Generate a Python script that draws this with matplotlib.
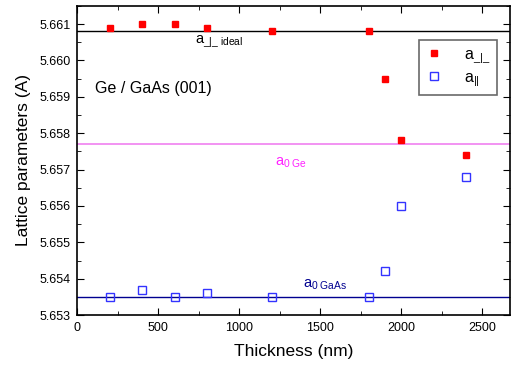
import matplotlib
matplotlib.use("Agg")
import matplotlib.pyplot as plt
from matplotlib.ticker import MultipleLocator

plt.rcParams['font.family'] = ['Liberation Sans', 'DejaVu Sans']
plt.rcParams['mathtext.fontset'] = 'custom'
plt.rcParams['mathtext.rm'] = 'Liberation Sans'
plt.rcParams['mathtext.it'] = 'Liberation Sans'

# data
thickness = [200, 400, 600, 800, 1200, 1800, 1900, 2000, 2400]
a_perp = [5.6609, 5.6610, 5.6610, 5.6609, 5.6608, 5.6608, 5.6595, 5.6578, 5.6574]
a_par = [5.6535, 5.6537, 5.6535, 5.6536, 5.6535, 5.6535, 5.6542, 5.6560, 5.6568]
a_perp_ideal = 5.6608
a0_ge = 5.6577
a0_gaas = 5.6535

fig = plt.figure(figsize=(5.13, 3.66), dpi=100)
ax = fig.add_axes([0.151, 0.139, 0.843, 0.845])

ax.axhline(a_perp_ideal, color='black', lw=1)
ax.axhline(a0_ge, color='#f080f0', lw=1.2)
ax.axhline(a0_gaas, color='#000090', lw=1)

ax.plot(thickness, a_perp, 's', color='red', ms=5, label=r'a$_{\_|\_}$')
ax.plot(thickness, a_par, 's', mfc='none', mec='#3333ff', mew=1, ms=6, label=r'a$_{||}$')

ax.text(725, 5.66045, r'a$_{\_|\_\ \mathrm{ideal}}$', fontsize=10.5)
ax.text(110, 5.6591, 'Ge / GaAs (001)', fontsize=11.5)
ax.text(1220, 5.6571, r'a$_{0\ \mathrm{Ge}}$', fontsize=10.5, color='#ff22ff')
ax.text(1390, 5.65375, r'a$_{0\ \mathrm{GaAs}}$', fontsize=10.5, color='#000090')

ax.set_xlim(0, 2670)
ax.set_ylim(5.653, 5.6615)
ax.xaxis.set_major_locator(MultipleLocator(500))
ax.xaxis.set_minor_locator(MultipleLocator(250))
ax.yaxis.set_major_locator(MultipleLocator(0.001))
ax.yaxis.set_minor_locator(MultipleLocator(0.0005))
ax.yaxis.set_major_formatter(matplotlib.ticker.FormatStrFormatter('%.3f'))
ax.tick_params(which='both', direction='in', top=True, right=True, labelsize=9)
ax.tick_params(which='major', length=5, pad=5)
ax.tick_params(which='minor', length=3)
for s in ax.spines.values():
    s.set_linewidth(1.2)

ax.set_xlabel('Thickness (nm)', fontsize=12.5, labelpad=7)
ax.set_ylabel('Lattice parameters (A)', fontsize=12.5, labelpad=6)

leg = ax.legend(loc='upper right', bbox_to_anchor=(0.97, 0.889), fontsize=11.5,
                frameon=True, fancybox=False, edgecolor='#444444',
                handlelength=1.0, handletextpad=1.4, borderpad=0.4,
                labelspacing=0.3, borderaxespad=0)
leg.get_frame().set_linewidth(1.2)

fig.savefig('out.png', dpi=100)
